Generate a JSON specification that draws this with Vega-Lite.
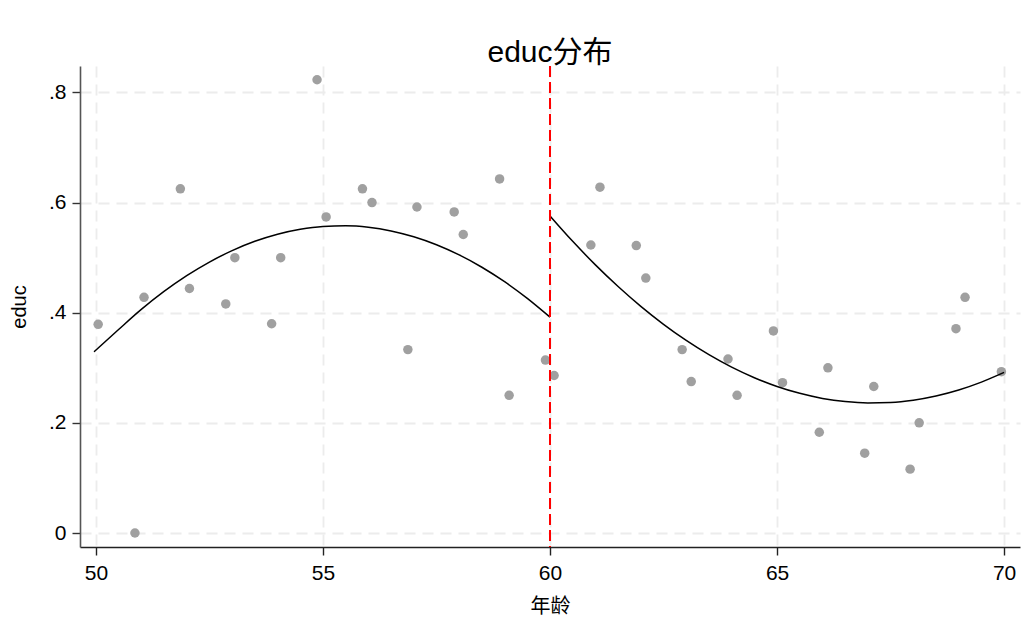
{
  "$schema": "https://vega.github.io/schema/vega-lite/v6.json",
  "width": 940,
  "height": 481,
  "autosize": {"type": "none"},
  "padding": {"left": 80, "top": 66, "right": 14, "bottom": 84},
  "background": "white",
  "title": {"text": "educ分布", "font": "Liberation Sans, Noto Sans CJK SC", "fontSize": 30, "fontWeight": "normal", "color": "black", "anchor": "middle", "offset": -3},
  "config": {
    "view": {"stroke": null},
    "axis": {"labelFont": "Liberation Sans", "titleFont": "Liberation Sans, Noto Sans CJK SC", "labelFontSize": 21, "titleFontSize": 20, "titleFontWeight": "normal", "labelColor": "black", "titleColor": "black", "tickSize": 8, "domainWidth": 1.6, "tickWidth": 1.4, "gridColor": "#ececec", "gridDash": [11, 7], "gridWidth": 1.8}
  },
  "datasets": {
    "pts": [
      {"age": 50.05, "educ": 0.379}, {"age": 50.86, "educ": 0.0}, {"age": 51.06, "educ": 0.428},
      {"age": 51.86, "educ": 0.625}, {"age": 52.06, "educ": 0.444}, {"age": 52.86, "educ": 0.416},
      {"age": 53.06, "educ": 0.5}, {"age": 53.87, "educ": 0.38}, {"age": 54.07, "educ": 0.5},
      {"age": 54.87, "educ": 0.823}, {"age": 55.07, "educ": 0.574}, {"age": 55.87, "educ": 0.625},
      {"age": 56.08, "educ": 0.6}, {"age": 56.87, "educ": 0.333}, {"age": 57.07, "educ": 0.592},
      {"age": 57.89, "educ": 0.583}, {"age": 58.09, "educ": 0.542}, {"age": 58.89, "educ": 0.643},
      {"age": 59.1, "educ": 0.25}, {"age": 59.9, "educ": 0.314}, {"age": 60.09, "educ": 0.286},
      {"age": 60.9, "educ": 0.523}, {"age": 61.1, "educ": 0.628}, {"age": 61.9, "educ": 0.522},
      {"age": 62.11, "educ": 0.463}, {"age": 62.91, "educ": 0.333}, {"age": 63.11, "educ": 0.275},
      {"age": 63.92, "educ": 0.316}, {"age": 64.12, "educ": 0.25}, {"age": 64.92, "educ": 0.367},
      {"age": 65.12, "educ": 0.273}, {"age": 65.93, "educ": 0.183}, {"age": 66.12, "educ": 0.3},
      {"age": 66.93, "educ": 0.145}, {"age": 67.13, "educ": 0.266}, {"age": 67.93, "educ": 0.116},
      {"age": 68.13, "educ": 0.2}, {"age": 68.94, "educ": 0.371}, {"age": 69.14, "educ": 0.428},
      {"age": 69.94, "educ": 0.293}
    ],
    "fit": [
      {"age": 49.96, "fit": 0.329, "side": "L"}, {"age": 50.5, "fit": 0.3695, "side": "L"},
      {"age": 51, "fit": 0.406, "side": "L"}, {"age": 51.5, "fit": 0.4386, "side": "L"},
      {"age": 52, "fit": 0.4673, "side": "L"}, {"age": 52.5, "fit": 0.492, "side": "L"},
      {"age": 53, "fit": 0.5128, "side": "L"}, {"age": 53.5, "fit": 0.5297, "side": "L"},
      {"age": 54, "fit": 0.5426, "side": "L"}, {"age": 54.5, "fit": 0.5516, "side": "L"},
      {"age": 55, "fit": 0.5567, "side": "L"}, {"age": 55.5, "fit": 0.5579, "side": "L"},
      {"age": 56, "fit": 0.5552, "side": "L"}, {"age": 56.5, "fit": 0.5485, "side": "L"},
      {"age": 57, "fit": 0.5379, "side": "L"}, {"age": 57.5, "fit": 0.5234, "side": "L"},
      {"age": 58, "fit": 0.5049, "side": "L"}, {"age": 58.5, "fit": 0.4826, "side": "L"},
      {"age": 59, "fit": 0.4563, "side": "L"}, {"age": 59.5, "fit": 0.426, "side": "L"},
      {"age": 60, "fit": 0.3919, "side": "L"},
      {"age": 60, "fit": 0.5757, "side": "R"}, {"age": 60.5, "fit": 0.5296, "side": "R"},
      {"age": 61, "fit": 0.4869, "side": "R"}, {"age": 61.5, "fit": 0.4476, "side": "R"},
      {"age": 62, "fit": 0.4116, "side": "R"}, {"age": 62.5, "fit": 0.379, "side": "R"},
      {"age": 63, "fit": 0.3497, "side": "R"}, {"age": 63.5, "fit": 0.3238, "side": "R"},
      {"age": 64, "fit": 0.3012, "side": "R"}, {"age": 64.5, "fit": 0.282, "side": "R"},
      {"age": 65, "fit": 0.2661, "side": "R"}, {"age": 65.5, "fit": 0.2536, "side": "R"},
      {"age": 66, "fit": 0.2444, "side": "R"}, {"age": 66.5, "fit": 0.2386, "side": "R"},
      {"age": 67, "fit": 0.2361, "side": "R"}, {"age": 67.5, "fit": 0.237, "side": "R"},
      {"age": 68, "fit": 0.2412, "side": "R"}, {"age": 68.5, "fit": 0.2488, "side": "R"},
      {"age": 69, "fit": 0.2597, "side": "R"}, {"age": 69.5, "fit": 0.274, "side": "R"},
      {"age": 70, "fit": 0.2916, "side": "R"}
    ],
    "cut": [{"age": 60}]
  },
  "layer": [
    {
      "data": {"name": "pts"},
      "mark": {"type": "circle", "size": 90, "color": "#a0a0a0", "opacity": 1},
      "encoding": {
        "x": {"field": "age", "type": "quantitative", "scale": {"domain": [49.65, 70.35], "nice": false, "zero": false},
              "axis": {"values": [50, 55, 60, 65, 70], "title": "年龄", "titlePadding": 13, "labelPadding": 7, "grid": true, "domainColor": "#222", "tickColor": "#222"}},
        "y": {"field": "educ", "type": "quantitative", "scale": {"domain": [-0.0254, 0.848], "nice": false, "zero": false},
              "axis": {"values": [0, 0.2, 0.4, 0.6, 0.8], "title": "educ", "titlePadding": 19, "labelPadding": 6, "grid": true, "domainColor": "#555", "tickColor": "#333",
                       "labelExpr": "datum.value == 0 ? '0' : replace(format(datum.value, '.1f'), '0.', '.')"}}
      }
    },
    {
      "data": {"name": "fit"},
      "mark": {"type": "line", "color": "black", "strokeWidth": 1.5, "interpolate": "monotone"},
      "encoding": {
        "x": {"field": "age", "type": "quantitative"},
        "y": {"field": "fit", "type": "quantitative"},
        "detail": {"field": "side", "type": "nominal"}
      }
    },
    {
      "data": {"name": "cut"},
      "mark": {"type": "rule", "color": "#f00", "strokeWidth": 2, "strokeDash": [11, 5]},
      "encoding": {"x": {"field": "age", "type": "quantitative"}}
    }
  ]
}
